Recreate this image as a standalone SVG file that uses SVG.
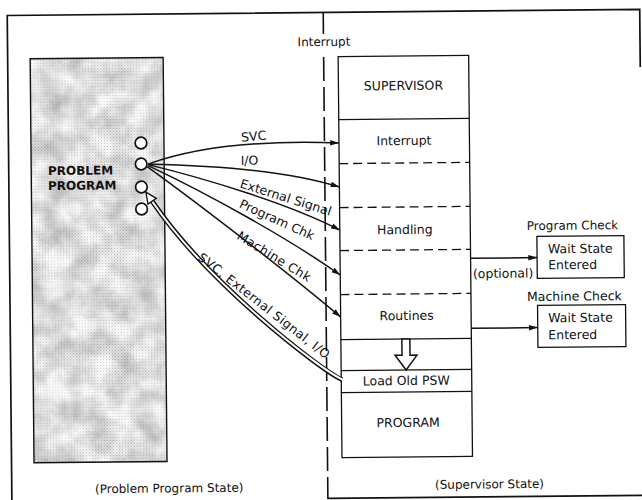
<svg xmlns="http://www.w3.org/2000/svg" width="642" height="500" viewBox="0 0 642 500">
<defs>
<style>
.t{font-family:"DejaVu Sans","Liberation Sans",sans-serif;font-size:12.5px;fill:#111}
.s12{font-size:12px}
.b{font-weight:bold;font-size:12px}
.m{text-anchor:middle}
.ln{fill:none;stroke:#111;stroke-width:1.3}
.fr{fill:none;stroke:#111;stroke-width:1.7}
.bx{fill:#fff;stroke:#111;stroke-width:1.3}
.dash{fill:none;stroke:#111;stroke-width:1.3;stroke-dasharray:9 5}
.vd{fill:none;stroke:#111;stroke-width:1.6;stroke-dasharray:24 6}
.arr{fill:none;stroke:#111;stroke-width:1.5;marker-end:url(#ah)}
.circ{fill:#fff;stroke:#111;stroke-width:1.7}
</style>
<marker id="ah" viewBox="0 0 10 8" refX="10" refY="4" markerWidth="9" markerHeight="7" markerUnits="userSpaceOnUse" orient="auto">
<path d="M0,0.8 L10,4 L0,7.2z" fill="#111"/>
</marker>
<filter id="mottle" filterUnits="objectBoundingBox" x="0" y="0" width="1" height="1" color-interpolation-filters="sRGB">
<feTurbulence type="fractalNoise" baseFrequency="0.045" numOctaves="4" seed="11"/>
<feColorMatrix type="matrix" values="0.4 0 0 0 0.7  0.4 0 0 0 0.7  0.4 0 0 0 0.7  0 0 0 0 1"/>
</filter>
<pattern id="dots" width="3" height="3" patternUnits="userSpaceOnUse">
<rect x="0" y="0" width="1" height="1" fill="#333" fill-opacity="0.3"/>
<rect x="1.5" y="1.5" width="1" height="1" fill="#555" fill-opacity="0.18"/>
</pattern>
</defs>
<rect width="642" height="500" fill="#fff"/>
<g transform="rotate(-0.55 320 250)">

<g id="frame">
<path class="fr" d="M9.5,502 V12.5 H642 V70"/>
<path class="fr" d="M325.5,498.5 H645"/>
</g>

<g id="divider">
<path class="ln" d="M325.5,12.5 V34" style="stroke-width:1.6"/>
<path class="vd" d="M325.5,57 V499"/>
<text class="t s12 m" x="326" y="46">Interrupt</text>
<text class="t s12" x="92.7" y="491">(Problem Program State)</text>
<text class="t s12" x="432.7" y="490">(Supervisor State)</text>
</g>

<g id="problem-program">
<rect x="32" y="56" width="133" height="404" fill="#ddd" filter="url(#mottle)"/>
<rect x="32" y="56" width="133" height="404" fill="url(#dots)"/>
<rect x="32" y="56" width="133" height="404" fill="none" stroke="#111" stroke-width="1.4"/>
<text class="t b" x="48.7" y="172.4">PROBLEM</text>
<text class="t b" x="48.6" y="187.4">PROGRAM</text>
<circle class="circ" cx="142" cy="141.3" r="5.8"/>
<circle class="circ" cx="142" cy="162.3" r="5.8"/>
<circle class="circ" cx="142" cy="185.3" r="5.8"/>
<circle class="circ" cx="142" cy="207.3" r="5.8"/>
</g>

<g id="supervisor-program">
<rect class="bx" x="340" y="56.8" width="130.5" height="401"/>
<path class="ln" d="M340,119.8 H470.5 M340,339.8 H470.5 M340,370.8 H470.5 M340,392.8 H470.5"/>
<path class="dash" d="M340,163.8 H470.5 M340,207.8 H470.5 M340,250.8 H470.5 M340,294.8 H470.5"/>
<text class="t m" x="405" y="90.8">SUPERVISOR</text>
<text class="t m" x="405" y="145.8">Interrupt</text>
<text class="t m" x="405" y="234.8">Handling</text>
<text class="t m" x="406" y="320.8">Routines</text>
<text class="t m" x="405" y="385.8">Load Old PSW</text>
<text class="t m" x="406.5" y="427.8">PROGRAM</text>
</g>

<g id="wait-program-check">
<text class="t s12" x="527" y="232">Program Check</text>
<rect class="bx" x="537" y="238.5" width="87" height="42"/>
<text class="t" x="548" y="255.5">Wait State</text>
<text class="t" x="548" y="271.5">Entered</text>
</g>

<g id="wait-machine-check">
<text class="t" x="526.5" y="303">Machine Check</text>
<rect class="bx" x="537" y="307.5" width="88" height="42"/>
<text class="t" x="547.5" y="324.5">Wait State</text>
<text class="t" x="547.5" y="341.5">Entered</text>
</g>

<g id="connectors">
<path class="arr" d="M149,162.5 C190,148 250,139 340,143.2"/>
<path class="arr" d="M149,162.5 C220,164.5 290,171 340,187.2"/>
<path class="arr" d="M149,163 C210,178.5 290,204 340,230.2"/>
<path class="arr" d="M149,164 C210,193.5 290,239 340,275.2"/>
<path class="arr" d="M148,165 C200,203.5 290,274 340,317.2"/>
<path d="M341,380 C321,371 208,283 152.6,199.6" fill="none" stroke="#111" stroke-width="4.8"/>
<path d="M342,380.2 C321,371 208,283 152.6,199.6" fill="none" stroke="#fff" stroke-width="2"/>
<polygon points="146.5,190.5 156.8,196.8 148.4,202.4" fill="#fff" stroke="#111" stroke-width="1.3" stroke-linejoin="miter"/>
<path class="arr" d="M470.5,259.7 H537"/>
<path class="arr" d="M470.5,329.7 H537"/>
<polygon points="401,339.8 401,356 394,356 405,370.8 416,356 409,356 409,339.8" fill="#fff" stroke="#111" stroke-width="1.5"/>
<text class="t" transform="translate(242.5,140.9) rotate(-4)">SVC</text>
<text class="t" x="241.5" y="164.2">I/O</text>
<text class="t" transform="translate(239.8,186.5) rotate(18)" textLength="95">External Signal</text>
<text class="t" transform="translate(238.8,206.2) rotate(25)">Program Chk</text>
<text class="t" transform="translate(236.1,237.4) rotate(32)" textLength="84">Machine Chk</text>
<text class="t" transform="translate(197,257.8) rotate(38.5)" textLength="163">SVC, External Signal, I/O</text>
<text class="t" x="472.7" y="279.5">(optional)</text>
</g>

</g>
</svg>
